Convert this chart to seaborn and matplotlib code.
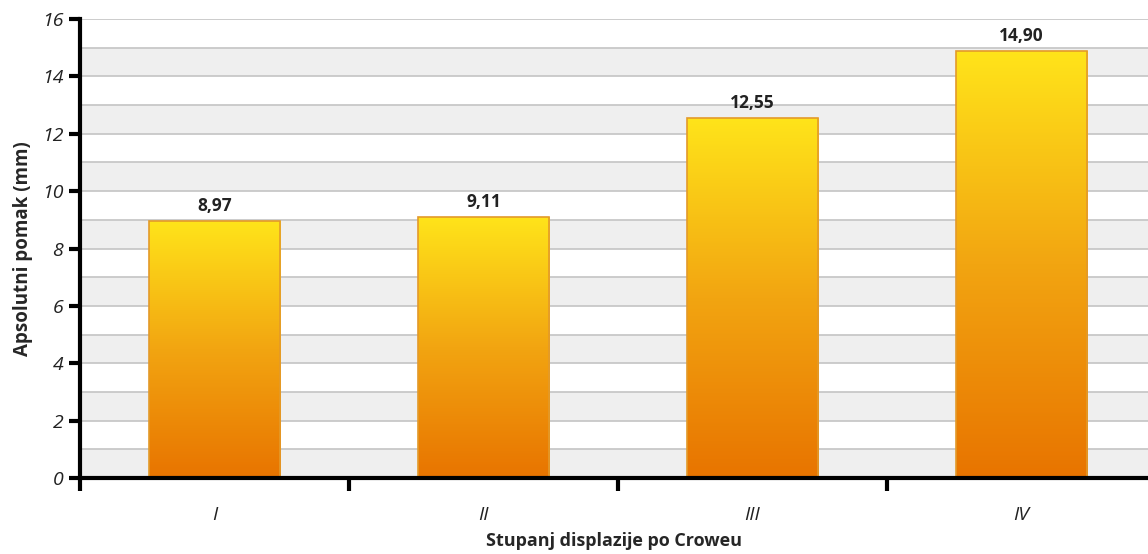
import numpy as np
import pandas as pd
import matplotlib
matplotlib.use("Agg")
import matplotlib.pyplot as plt
import seaborn as sns
from matplotlib.colors import LinearSegmentedColormap

categories = ["I", "II", "III", "IV"]
values = [8.97, 9.11, 12.55, 14.90]
value_labels = ["8,97", "9,11", "12,55", "14,90"]
yticks = [0, 2, 4, 6, 8, 10, 12, 14, 16]

sns.set_theme(style="white")
plt.rcParams['font.family'] = ['Open Sans', 'DejaVu Sans']

df = pd.DataFrame({"cat": categories, "val": values})

fig = plt.figure(figsize=(11.48, 5.54), dpi=100)
ax = fig.add_axes([80/1148, 76/554, 1 - 80/1148 + 8/1148, (478-19)/554])

sns.barplot(data=df, x="cat", y="val", ax=ax, width=0.49, color="#F5B000",
            edgecolor="#E8A020", linewidth=1.2, zorder=3)
bars = list(ax.patches)

ax.set_xlim(-0.5, 3.5)
ax.set_ylim(0, 16)

# alternating bands and gridlines
for k in range(0, 16, 2):
    ax.axhspan(k, k + 1, color="#EFEFEF", zorder=0, lw=0)
for k in range(1, 17):
    ax.axhline(k, color="#C4C4C4", lw=1.2, zorder=1)

cmap = LinearSegmentedColormap.from_list("g", ["#E87400", "#F2A511", "#FFE41A"])
grad = np.linspace(0, 1, 256).reshape(-1, 1)
for p in bars:
    x0, y0 = p.get_x(), p.get_y()
    w, h = p.get_width(), p.get_height()
    im = ax.imshow(grad, cmap=cmap, aspect="auto", origin="lower",
                   extent=[x0, x0 + w, y0, y0 + h], zorder=2.9)
    im.set_clip_path(p)
    p.set_facecolor("none")
    p.set_edgecolor("#E39A2A")

for i, (v, lab) in enumerate(zip(values, value_labels)):
    ax.text(i, v + 0.2, lab, ha="center", va="bottom", fontsize=12.5,
            fontweight="bold", color="#222222", zorder=5)

ax.set_xlim(-0.5, 3.5)
ax.set_ylim(0, 16)

ax.set_yticks(yticks)
ax.set_yticklabels([str(t) for t in yticks], fontsize=14, style="italic", color="#222222")
ax.set_xticks([0, 1, 2, 3])
ax.set_xticklabels(categories, fontsize=14, style="italic", color="#222222")
ax.tick_params(axis="x", length=0, pad=20)
ax.tick_params(axis="y", length=8, width=3, color="black", direction="out", pad=4, left=True)
ax.set_xticks([-0.5, 0.5, 1.5, 2.5, 3.5], minor=True)
ax.tick_params(axis="x", which="minor", length=9, width=3, color="black", direction="out", bottom=True)

for s in ["top", "right"]:
    ax.spines[s].set_visible(False)
for s in ["left", "bottom"]:
    ax.spines[s].set_linewidth(3)
    ax.spines[s].set_color("black")
    ax.spines[s].set_zorder(6)

ax.set_xlabel("Stupanj displazije po Croweu", fontsize=13, fontweight="bold", va="center")
ax.xaxis.set_label_coords(0.5 - 4/1076, -63/459)
ax.set_ylabel("Apsolutni pomak (mm)", fontsize=13.5, fontweight="bold", labelpad=6)
ax.grid(False)

fig.savefig("out.png", dpi=100)
